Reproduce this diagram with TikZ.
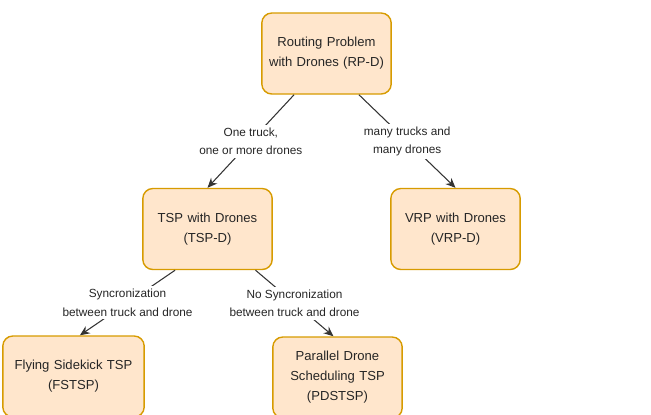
\documentclass[tikz,border=0pt]{standalone}
\usepackage{fontspec}
\setmainfont{Liberation Sans}
\usepackage{tikz}
\usetikzlibrary{shapes.geometric, arrows, arrows.meta}
\tikzstyle{problem} = [rectangle, rounded corners=0.25cm, minimum width=3.225cm, minimum height=2.025cm, draw=stroke, fill=peach, line width=1pt, text=black!85, text width=3.0cm, align=center, font=\fontsize{9.3}{14.2}\selectfont]
\tikzstyle{problem2} = [problem, minimum width=3.475cm, text width=3.3cm]
\tikzstyle{arrow} = [line width=0.75pt, draw=black!80, ->, >={Stealth[length=7pt,width=6pt]}]
\tikzstyle{cond} = [midway, fill=white, text=black!85, align=center, inner sep=2pt, font=\fontsize{8.4}{13.2}\selectfont]
\definecolor{peach}{RGB}{255,230,204}
\definecolor{stroke}{RGB}{215,155,0}

\begin{document}
\begin{tikzpicture}
\clip (0,0) rectangle (16.275,-10.35);
\node (rp) [problem] at (8.1625,-1.3375) {Routing Problem\\ with Drones (RP-D)};
\node (tsp) [problem, below of=rp, xshift=-2.975cm, yshift=-3.3875cm] {TSP with Drones\\ (TSP-D)};
\node (vrp) [problem, below of=rp, xshift=3.225cm, yshift=-3.3875cm] {VRP with Drones\\ (VRP-D)};
\node (fstsp) [problem2, below of=tsp, xshift=-3.35cm, yshift=-2.6875cm] {Flying Sidekick TSP\\ (FSTSP)};
\node (pdstsp) [problem, below of=tsp, xshift=3.25cm, yshift=-2.7125cm] {Parallel Drone\\ Scheduling TSP\\ (PDSTSP)};
%% edges with conditions
\draw[arrow] ([xshift=-0.81cm]rp.south) -- (tsp.north) node [cond] {One truck,\\ one or more drones};
\draw[arrow] ([xshift=0.81cm]rp.south) -- (vrp.north) node [cond] {many trucks and\\ many drones};
\draw[arrow] ([xshift=-0.81cm]tsp.south) -- ([xshift=0.16cm]fstsp.north) node [cond] {Syncronization\\ between truck and drone};
\draw[arrow] ([xshift=1.2cm]tsp.south) -- ([xshift=-0.1cm]pdstsp.north) node [cond] {No Syncronization\\ between truck and drone};
\end{tikzpicture}
\end{document}
